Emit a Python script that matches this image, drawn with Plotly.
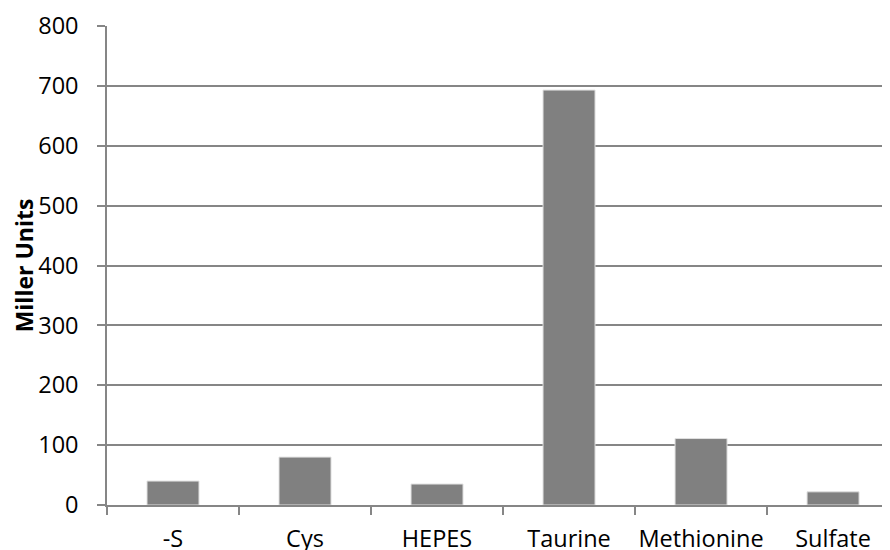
import plotly.graph_objects as go

categories = ["-S", "Cys", "HEPES", "Taurine", "Methionine", "Sulfate"]
miller_units = [40, 80, 35, 693, 111, 22]
y_ticks = [0, 100, 200, 300, 400, 500, 600, 700, 800]

GRID = "#868686"
FONT = "Open Sans, Lato, sans-serif"

fig = go.Figure(
    go.Bar(
        x=categories,
        y=miller_units,
        width=0.394,
        marker=dict(color="#808080", line=dict(color="#e0e0e0", width=1)),
    )
)

# the page body adds an 8px offset; margins compensate for it
fig.update_layout(
    width=890,
    height=550,
    margin=dict(l=99, r=0, t=18, b=53, autoexpand=False),
    paper_bgcolor="white",
    plot_bgcolor="white",
    showlegend=False,
    font=dict(family=FONT, size=23.5, color="black"),
)

fig.update_xaxes(
    type="category",
    range=[-0.5, 5.492],
    automargin=False,
    showgrid=False,
    showline=True,
    linecolor=GRID,
    linewidth=1.5,
    ticks="outside",
    tickson="boundaries",
    ticklen=8,
    tickcolor=GRID,
    tickwidth=1.5,
    tickangle=0,
    tickfont=dict(size=23.5),
    ticklabelstandoff=12,
)

fig.update_yaxes(
    range=[0, 800],
    automargin=False,
    tickvals=y_ticks,
    showgrid=True,
    gridcolor=GRID,
    gridwidth=1.5,
    showline=True,
    linecolor=GRID,
    linewidth=1.5,
    ticks="outside",
    ticklen=8,
    tickcolor=GRID,
    tickwidth=1.5,
    tickfont=dict(size=23.5),
    ticklabelstandoff=14,
    zeroline=False,
    title=dict(text="<b>Miller Units</b>", font=dict(size=23), standoff=21),
)

fig.write_html("out.html")
